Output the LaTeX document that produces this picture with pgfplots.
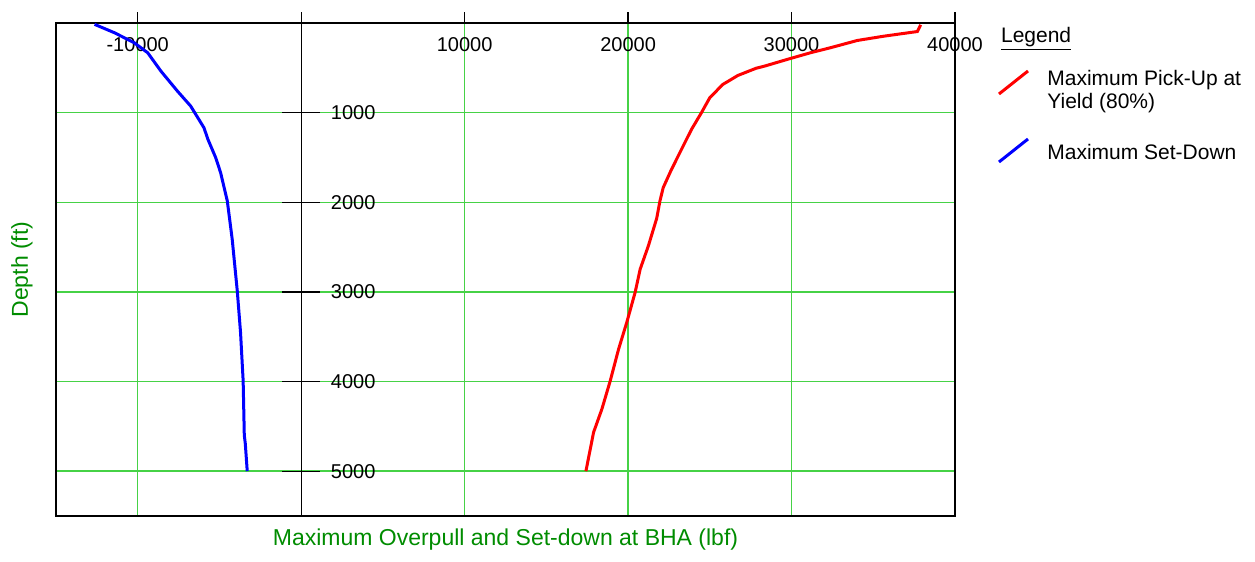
\documentclass[border=0pt]{standalone}
\usepackage{fontspec}
\setmainfont{Liberation Sans}
\usepackage{pgfplots}
\pgfplotsset{compat=1.18}
\definecolor{gridgreen}{RGB}{70,210,70}
\definecolor{labelgreen}{RGB}{0,140,0}
\begin{document}
\begin{tikzpicture}
\useasboundingbox (-28pt,-23pt) rectangle (599.5pt,258pt);
\begin{axis}[
  name=main,
  at={(0,0)}, anchor=south west,
  scale only axis, width=449.5pt, height=246.5pt,
  xmin=-15000, xmax=40000, ymin=0, ymax=5500, y dir=reverse,
  scaled x ticks=false, scaled y ticks=false,
  axis line style={black, line width=0.9pt},
  xtick={-10000,10000,20000,30000,40000},
  xticklabels={-10000,10000,20000,30000,40000},
  xtick pos=right, xticklabel pos=right,
  tick align=outside, major tick length=5.5pt,
  tick style={black, line width=0.6pt},
  xticklabel style={anchor=center, font=\fontsize{10}{12}\selectfont},
  xticklabel shift=-16.5pt,
  ytick={1000,2000,3000,4000,5000},
  yticklabels={},
  ytick style={draw=none},
  grid=major,
  major grid style={gridgreen, line width=0.75pt},
  extra x ticks={0}, extra x tick labels={},
  extra x tick style={major grid style={black, line width=0.6pt}},
  xlabel={Maximum Overpull and Set-down at BHA (lbf)},
  ylabel={Depth (ft)},
  xlabel style={at={(axis description cs:0.5,-0.0487)}, anchor=center, font=\fontsize{11.5}{13}\selectfont, text=labelgreen},
  ylabel style={at={(axis description cs:-0.0378,0.5)}, anchor=center, font=\fontsize{11.5}{13}\selectfont, text=labelgreen},
]
\addplot[blue, line width=1.5pt] coordinates {
(-12640,15) (-11420,109) (-10210,221) (-9390,332) (-8580,537) (-7570,760)
(-6760,927) (-5950,1168) (-5700,1300) (-5230,1502) (-4930,1669) (-4520,1985)
(-4220,2412) (-3910,2988) (-3710,3452) (-3550,3991) (-3480,4600) (-3420,4690)
(-3300,5000)
};
\addplot[red, line width=1.5pt] coordinates {
(37900,20) (37700,95) (35650,147) (34020,195) (32380,276) (31160,332)
(29870,399) (28350,481) (27830,505) (26720,585) (25800,685) (25000,833)
(24490,1000) (23880,1187) (23270,1409) (22660,1632) (22150,1836) (21950,1985)
(21750,2180) (21240,2487) (20740,2746) (20430,3006) (19920,3340) (19420,3638)
(18910,3991) (18400,4306) (17890,4566) (17420,5000)
};
\end{axis}
\begin{axis}[
  at={(0,0)}, anchor=south west,
  scale only axis, width=449.5pt, height=246.5pt,
  xmin=-15000, xmax=40000, ymin=0, ymax=5500, y dir=reverse,
  axis x line=none, axis y line=middle,
  y axis line style={-, black, line width=0.6pt},
  xtick=\empty,
  ytick={1000,2000,3000,4000,5000},
  yticklabels={1000,2000,3000,4000,5000},
  ytick align=center, major tick length=19pt,
  ytick style={black, line width=0.6pt},
  yticklabel style={anchor=west, xshift=20.85pt, font=\fontsize{10}{12}\selectfont},
]
\end{axis}
% legend
\node[anchor=west, inner sep=0pt, font=\fontsize{10.5}{12}\selectfont] at (472.35pt,238.5pt) {\underline{Legend}};
\draw[red, line width=1.5pt] (471.5pt,211pt) -- (486pt,222.5pt);
\node[anchor=west, inner sep=0pt, align=left, font=\fontsize{10.5}{11.5}\selectfont] at (495.5pt,212.25pt) {Maximum Pick-Up at\\Yield (80\%)};
\draw[blue, line width=1.5pt] (471.5pt,177pt) -- (486pt,188.5pt);
\node[anchor=west, inner sep=0pt, font=\fontsize{10.5}{12}\selectfont] at (495.5pt,182pt) {Maximum Set-Down};
\end{tikzpicture}
\end{document}
